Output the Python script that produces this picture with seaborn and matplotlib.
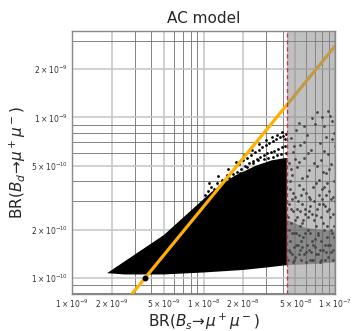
import numpy as np
import pandas as pd
import matplotlib
matplotlib.use("Agg")
import matplotlib.pyplot as plt
from matplotlib.ticker import LogLocator, FixedLocator, NullFormatter
import seaborn as sns

sns.set_style("white")
plt.rcParams['font.family'] = ['DejaVu Sans']

XS = 1e-9   # unit of Bs values
YS = 1e-10  # unit of Bd values

# dense (solid) part of the scan, boundary
solid_bs = [1.85, 5, 11.6, 17, 25, 33, 43, 43, 30, 20, 10, 5, 2.5, 1.85]
solid_bd = [1.07, 1.85, 3.45, 4.3, 5.0, 5.4, 5.6, 1.2, 1.16, 1.12, 1.08, 1.05, 1.05, 1.07]

# dense band in the excluded region
band_bs = [43, 43, 60, 100, 100, 70, 43]
band_bd = [1.2, 2.3, 2.05, 1.95, 1.25, 1.22, 1.2]

# sparse points near the upper edge of the scan
sparse_bs = [10.2, 10.8, 11.4, 12.0, 12.6, 13.2, 13.8, 14.4, 15.0, 15.6, 16.2, 16.8, 17.4, 18.0,
             18.7, 19.4, 20.1, 20.8, 21.5, 22.2, 23.0, 23.8, 24.6, 25.4, 26.2, 27.0, 27.9, 28.8,
             29.7, 30.6, 31.6, 32.6, 33.6, 34.6, 35.7, 36.8, 38.0, 39.2, 40.4, 41.6, 42.6,
             11.0, 13.0, 15.3, 17.8, 20.5, 23.4, 26.6, 30.0, 33.0, 36.2, 39.6, 42.0,
             19.0, 24.0, 29.0, 34.0, 38.6, 42.2, 26.0, 31.0, 36.4, 21.6]
sparse_bd = [3.3, 3.5, 3.7, 3.6, 3.9, 3.75, 4.1, 3.95, 4.4, 4.2, 4.6, 4.45, 4.9, 4.6,
             5.1, 4.8, 5.4, 5.0, 5.6, 5.2, 5.8, 5.35, 6.1, 5.5, 6.3, 5.7, 6.5, 5.8,
             6.7, 6.0, 6.9, 6.1, 7.1, 6.2, 7.3, 6.4, 7.5, 6.5, 7.7, 6.6, 7.9,
             3.9, 4.3, 4.8, 5.3, 5.8, 6.3, 6.8, 7.2, 7.5, 7.8, 8.1, 7.3,
             4.5, 5.2, 5.5, 5.7, 5.9, 6.0, 5.4, 5.6, 5.8, 4.9]

# points in the excluded (shaded) region
shade_bs = [44.2, 44.6, 45.0, 45.3, 45.8, 46.1, 46.5, 47.0, 47.4, 47.9, 48.3, 48.8, 49.4, 50.0, 50.6,
            51.2, 51.8, 52.4, 53.1, 53.8, 54.5, 55.2, 55.9, 56.6, 57.4, 58.2, 59.0, 59.8, 60.6, 61.5,
            62.4, 63.3, 64.2, 65.1, 66.1, 67.1, 68.1, 69.1, 70.2, 71.3, 72.4, 73.5, 74.7, 75.9, 77.1,
            78.3, 79.6, 80.9, 82.2, 83.5, 84.9, 86.3, 87.7, 89.1, 90.6, 92.1, 93.6, 95.1, 96.7, 98.2,
            44.9, 46.8, 48.6, 51.5, 54.0, 57.0, 60.2, 63.8, 67.6, 71.8, 76.4, 81.5, 86.8, 91.8, 97.4,
            73.0, 88.0, 66.5, 95.6, 58.6, 79.0, 52.8,
            44.4, 47.7, 50.3, 53.4, 56.3, 59.4, 62.9, 66.7, 70.7, 74.1, 78.8, 84.2, 88.4, 93.0, 99.0,
            45.1, 49.9, 55.5, 61.0, 68.8, 75.3, 83.0, 90.0, 96.0, 58.0, 64.7, 80.4, 87.1, 99.2,
            44.0, 45.5, 46.3, 47.2, 48.0, 49.0, 49.7, 50.8, 51.9, 52.9, 53.9, 55.0, 56.0, 57.2, 58.4,
            59.6, 60.9, 62.0, 63.1, 64.5, 65.7, 66.9, 68.4, 69.8, 71.0, 72.0, 73.9, 75.0, 76.8, 78.0,
            79.3, 80.6, 81.9, 83.8, 85.5, 86.0, 87.4, 89.7, 91.2, 92.6, 94.3, 95.9, 97.9, 99.5, 45.9,
            53.0, 62.2, 71.5, 82.8, 93.9, 49.2, 77.6, 85.9, 98.5]
shade_bd = [1.3, 2.9, 5.2, 1.7, 3.6, 7.4, 2.2, 1.4, 4.4, 2.6, 6.1, 1.9, 3.2, 1.35, 8.3,
            2.4, 4.9, 1.6, 3.8, 2.1, 6.7, 1.3, 2.9, 4.2, 1.8, 5.6, 2.5, 1.45, 3.4, 7.8,
            2.0, 4.7, 1.3, 2.8, 6.3, 1.7, 3.7, 2.3, 9.1, 1.4, 5.0, 2.7, 1.9, 4.1, 6.9,
            1.3, 3.1, 2.2, 8.8, 1.6, 4.5, 2.6, 5.9, 1.35, 3.5, 10.2, 2.0, 7.3, 1.5, 4.0,
            2.0, 3.1, 1.55, 2.7, 1.5, 2.3, 1.25, 2.6, 1.6, 2.1, 1.5, 2.9, 1.8, 2.4, 1.3,
            10.8, 11.0, 9.9, 9.5, 8.9, 10.1, 9.2,
            1.5, 1.25, 1.9, 1.4, 1.55, 1.9, 1.5, 1.3, 1.75, 1.4, 1.7, 1.3, 1.6, 1.45, 1.8,
            4.0, 5.5, 3.3, 4.3, 5.2, 3.3, 6.2, 4.8, 3.2, 7.0, 3.1, 4.6, 3.9, 6.6,
            2.4, 1.45, 2.7, 1.9, 3.4, 1.3, 2.3, 1.6, 3.0, 1.85, 2.6, 1.7, 2.2, 3.6, 1.4,
            2.7, 1.6, 2.4, 3.2, 1.9, 1.45, 2.5, 1.3, 3.0, 1.55, 2.45, 1.85, 2.9, 1.25, 2.4,
            3.6, 1.5, 2.0, 2.8, 1.45, 3.3, 2.1, 2.7, 1.6, 3.1, 1.9, 2.5, 2.1, 3.0, 4.8,
            5.3, 6.0, 3.9, 3.7, 5.1, 6.6, 5.4, 7.6, 8.0]

# constant-ratio line through the SM point
line_bs = [2.8, 100.0]
line_bd = [0.778, 27.8]
sm_bs = [3.6]
sm_bd = [1.0]
limit_bs = 43.0

x_ticks = [1, 2, 5, 10, 20, 50, 100]
x_labels = [r"$1\times10^{-9}$", r"$2\times10^{-9}$", r"$5\times10^{-9}$", r"$1\times10^{-8}$",
            r"$2\times10^{-8}$", r"$5\times10^{-8}$", r"$1\times10^{-7}$"]
y_ticks = [1, 2, 5, 10, 20]
y_labels = [r"$1\times10^{-10}$", r"$2\times10^{-10}$", r"$5\times10^{-10}$",
            r"$1\times10^{-9}$", r"$2\times10^{-9}$"]

fig = plt.figure(figsize=(3.53, 3.31), dpi=100)
ax = fig.add_axes([0.204, 0.112, 0.745, 0.794])
ax.set_xscale("log")
ax.set_yscale("log")

ax.fill(np.array(solid_bs) * XS, np.array(solid_bd) * YS, color="black", lw=0, zorder=2)
ax.fill(np.array(band_bs) * XS, np.array(band_bd) * YS, color="black", alpha=0.45, lw=0, zorder=2)

pts = pd.DataFrame({"bs": np.array(sparse_bs + shade_bs) * XS,
                    "bd": np.array(sparse_bd + shade_bd) * YS})
sns.scatterplot(data=pts, x="bs", y="bd", ax=ax, color="black", s=4, linewidth=0, zorder=2)

ldf = pd.DataFrame({"bs": np.array(line_bs) * XS, "bd": np.array(line_bd) * YS})
sns.lineplot(data=ldf, x="bs", y="bd", ax=ax, color="#FFB000", lw=2.3, zorder=3)

sm = pd.DataFrame({"bs": np.array(sm_bs) * XS, "bd": np.array(sm_bd) * YS})
sns.scatterplot(data=sm, x="bs", y="bd", ax=ax, color="black", s=18, linewidth=0, zorder=4)

ax.axvspan(limit_bs * XS, 1e-7, color="#878787", alpha=0.52, lw=0, zorder=5)
ax.axvline(limit_bs * XS, color="#c8324b", lw=1.0, ls=(0, (3, 2)), zorder=6)

ax.set_xlim(1e-9, 1e-7)
ax.set_ylim(7.94e-11, 3.45e-9)

ax.xaxis.set_major_locator(FixedLocator(np.array(x_ticks) * XS))
ax.set_xticklabels(x_labels)
ax.yaxis.set_major_locator(FixedLocator(np.array(y_ticks) * YS))
ax.set_yticklabels(y_labels)
ax.xaxis.set_minor_locator(LogLocator(base=10, subs=(3, 4, 6, 7, 8, 9)))
ax.yaxis.set_minor_locator(LogLocator(base=10, subs=(3, 4, 6, 7, 8, 9)))
ax.xaxis.set_minor_formatter(NullFormatter())
ax.yaxis.set_minor_formatter(NullFormatter())

ax.set_axisbelow(True)
ax.grid(True, which="major", color="#c4c4c4", lw=1.1, zorder=0)
ax.grid(True, which="minor", color="#6e6e6e", lw=0.6, zorder=0)
ax.tick_params(which="both", length=0, labelsize=5.5, labelcolor="#333333", pad=3)

for s in ax.spines.values():
    s.set_color("#888888")
    s.set_linewidth(1.0)
    s.set_zorder(7)

ax.set_xlabel(r"BR($B_s\!\to\!\mu^+\mu^-$)", fontsize=11, labelpad=1)
ax.set_ylabel(r"BR($B_d\!\to\!\mu^+\mu^-$)", fontsize=11, labelpad=2)
ax.set_title("AC model", fontsize=11, pad=6)

fig.savefig("out.png", dpi=100)
